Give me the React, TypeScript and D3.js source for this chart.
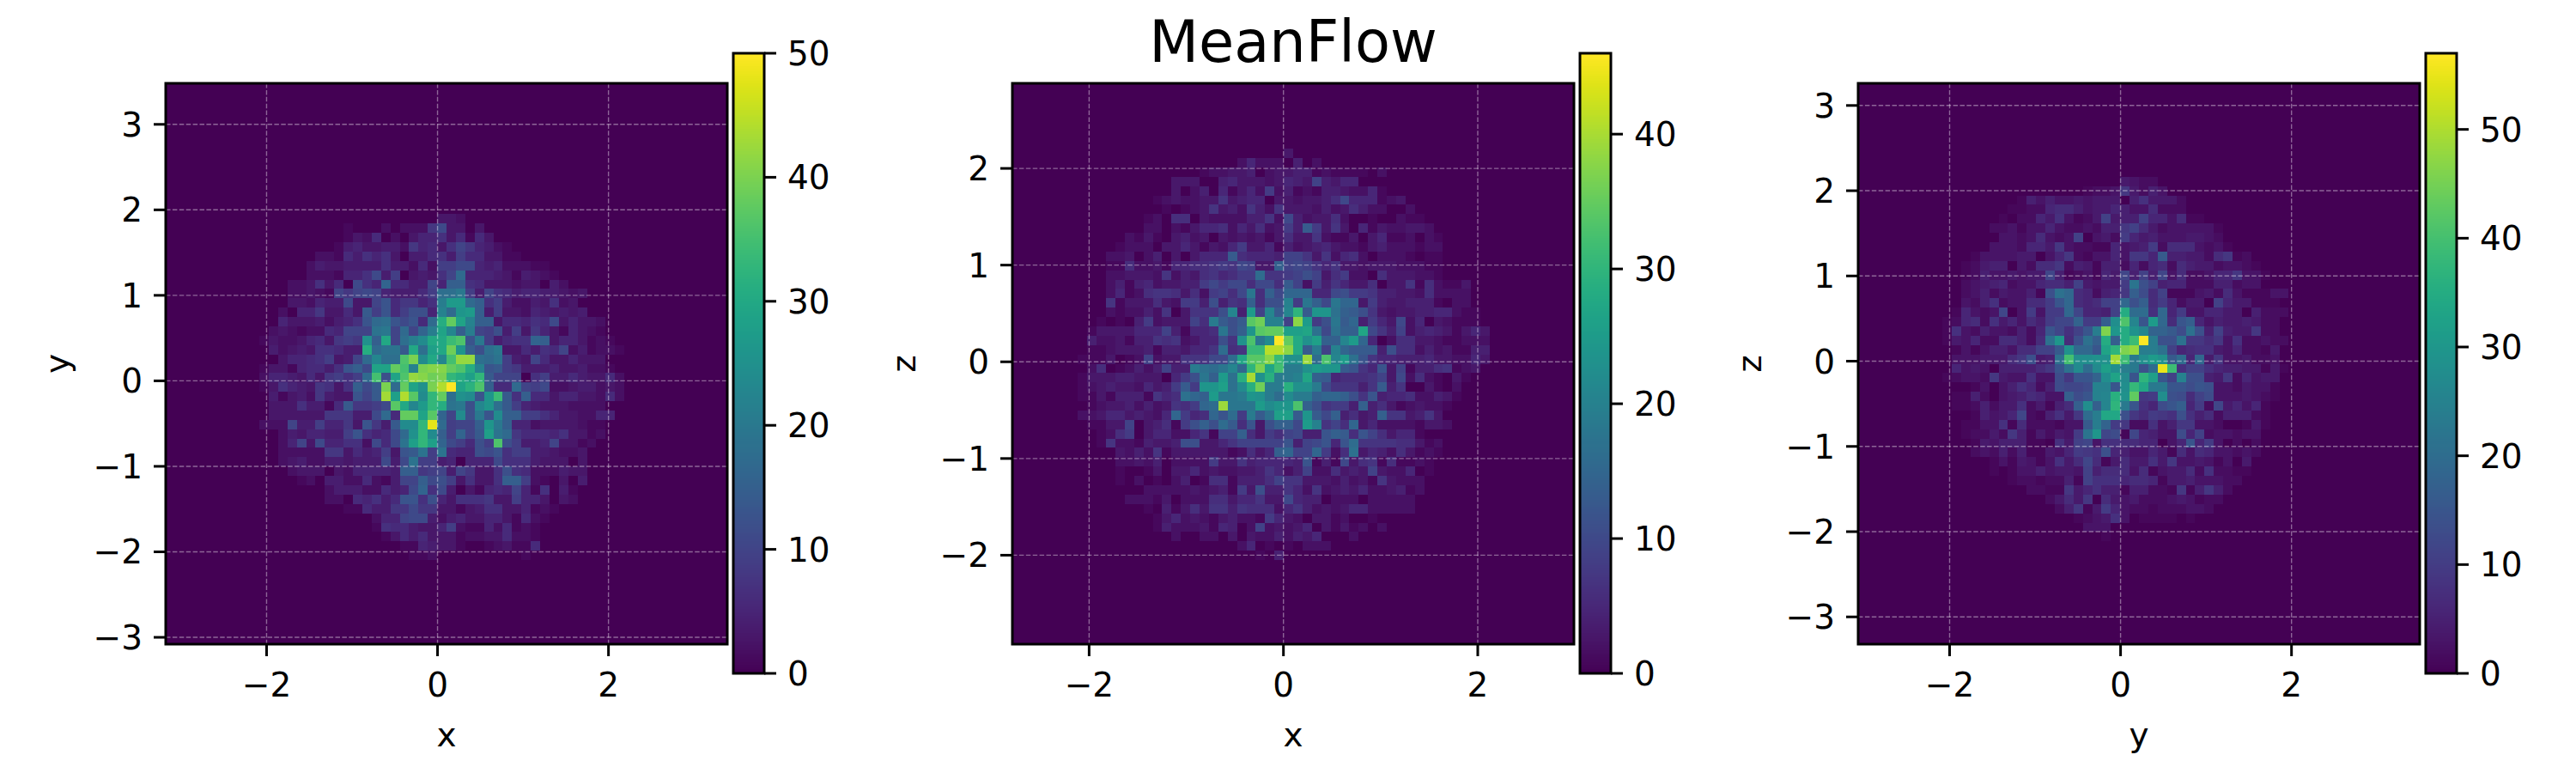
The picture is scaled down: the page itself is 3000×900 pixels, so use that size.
import React from "react";
import * as d3 from "d3";

// Each row: first occupied column bin, then counts. Row index = firstRow + position, counted from the top of 60 bins.
const xyFirstRow = 14;
const xyRows: number[][] = [
[29,3,3,2],
[19,1,0,0,0,2,0,2,2,2,8,11,3,3,0,3],
[19,1,3,2,6,0,2,0,3,5,5,7,3,6,1,6,3],
[18,1,4,5,3,3,4,4,2,8,5,6,3,7,10,8,5,4,2,1],
[16,2,2,1,6,4,7,5,7,3,0,4,4,6,7,4,9,6,6,3,3,1,1],
[15,2,4,3,3,4,4,4,4,7,4,4,2,6,2,9,9,11,11,5,4,5,2,2,2,1,1],
[15,2,2,2,1,5,5,7,11,4,9,0,3,4,3,7,10,17,5,5,5,4,3,1,4,3,2,1],
[13,2,2,3,7,3,6,0,11,7,5,16,6,6,4,4,10,5,15,15,7,6,3,3,3,2,3,3,0,4,2],
[13,2,2,3,2,1,10,8,10,11,10,5,4,4,4,6,9,18,18,20,9,4,10,7,6,4,5,5,4,4,3,2,3],
[13,3,3,2,5,4,4,11,3,3,10,13,6,8,8,5,7,21,27,27,17,15,7,9,4,2,2,4,3,7,2,3],
[12,2,0,5,5,8,3,3,6,3,14,9,13,6,9,12,12,5,22,17,26,27,15,4,9,3,3,2,5,4,3,4,3,4],
[12,5,3,3,3,4,2,4,5,7,13,17,18,13,11,13,6,17,31,38,29,22,15,15,3,6,6,5,7,6,11,3,5,3,3,2],
[11,2,3,2,1,2,2,6,5,10,10,10,19,20,10,17,10,16,21,29,23,15,21,10,9,12,4,9,3,8,5,3,1,5,3,2,1],
[10,1,3,2,2,3,5,6,3,8,9,8,25,15,30,10,18,21,24,30,30,34,36,13,20,9,4,6,7,7,16,15,3,5,5,3,1,2,1],
[11,4,2,3,4,3,7,7,6,4,4,31,17,19,19,14,30,18,28,30,39,26,15,12,18,20,3,3,6,4,7,6,10,2,4,1,2,2,1],
[12,3,5,5,6,7,9,3,4,10,17,23,18,18,36,40,24,30,23,35,42,42,18,17,19,9,4,3,10,6,3,3,5,3,3,3],
[10,1,3,3,1,5,6,6,4,7,13,15,11,29,29,38,35,22,40,41,41,38,36,31,22,13,14,9,8,4,4,4,5,3,3,4,2,2,1],
[10,2,5,5,4,3,6,3,8,9,7,9,17,35,12,29,36,42,41,39,40,33,31,28,33,14,10,10,10,0,7,9,4,4,6,4,3,3,6,2],
[10,1,3,7,5,4,3,8,7,3,7,15,11,14,40,17,38,29,25,40,44,50,29,32,36,15,6,6,17,10,9,11,2,2,3,4,4,2,3,2],
[11,4,1,3,4,2,8,4,3,3,13,10,14,43,28,44,37,24,33,38,18,25,24,13,26,34,14,7,15,6,6,3,5,5,3,3,2,6,2],
[11,3,3,3,7,4,4,1,6,14,8,8,9,11,37,30,23,27,33,31,19,20,12,23,26,18,14,9,5,4,3,3,3,2,2,2,2],
[11,3,3,3,3,3,3,8,8,8,4,4,11,17,6,38,38,29,37,16,10,24,12,20,13,24,15,15,9,9,7,5,3,3,2,2,5,5],
[10,2,2,2,10,4,4,9,5,5,8,3,13,8,4,14,24,24,33,48,17,9,10,10,15,26,20,15,5,5,2,3,3,3,3,2,1,1],
[12,2,4,3,5,5,4,4,9,13,7,5,6,11,17,25,33,24,15,9,16,10,14,28,19,17,8,6,6,6,5,7,3,3,1,2],
[12,2,5,10,3,11,5,5,7,7,2,11,6,11,19,28,33,28,16,11,9,6,12,9,36,12,9,4,4,5,10,3,3,1,2],
[12,2,2,2,2,2,8,8,3,6,4,5,9,3,13,14,19,9,19,6,5,5,12,11,13,7,9,9,4,4,3,2,2,3],
[12,2,3,4,2,2,4,4,3,4,4,4,11,4,11,19,9,9,4,5,0,5,5,5,11,7,7,7,4,3,3,3,0,3],
[13,2,3,3,3,0,3,2,5,5,5,5,4,15,15,8,9,10,4,10,8,3,3,7,12,7,6,2,2,2,4,3,3],
[14,1,2,0,4,4,2,2,6,2,1,4,10,10,15,11,12,9,3,7,3,3,7,15,15,9,2,1,0,3,0,4],
[17,2,4,4,4,2,2,6,4,5,11,16,7,11,4,0,3,1,5,6,5,10,5,1,7,0,4,1],
[17,2,2,0,6,5,7,4,6,13,13,7,12,5,3,7,7,7,8,3,3,9,5,5,3,0,3,2],
[19,1,1,6,4,4,8,8,11,8,8,3,3,1,3,4,7,7,3,3,5,1,2,1],
[22,2,5,5,10,11,11,4,2,4,5,3,3,5,5,3,1,6,2,1],
[22,1,7,6,6,4,3,3,5,9,2,1,1,5,2,6,1,2,1],
[23,1,3,6,4,6,3,3,3,1,2,2,3,3,6,2,2,1],
[25,1,1,5,4,3,3,1,0,0,1,2,3,1,1,6],
[26,1,1,2,0,0,0,0,0,0,0,0,0,1],
];

const xzFirstRow = 7;
const xzRows: number[][] = [
[29,3],
[24,2,5,2,2,2,0,4,0,2],
[20,1,2,2,3,3,4,0,2,3,3,4,4,1,2,1,1,1,1,0,2],
[17,3,3,3,0,0,4,5,3,3,3,2,3,5,4,3,9,4,3,5,5],
[17,3,0,2,4,0,5,1,3,5,2,8,2,4,1,2,1,4,4,3,2,2,5,1],
[15,1,2,3,2,2,3,3,7,3,4,5,5,0,3,3,2,3,3,4,6,10,5,5,5,1,2,3],
[15,0,1,0,1,2,3,7,3,4,2,7,4,2,7,3,3,3,2,4,2,3,6,4,2,2,0,0,2],
[14,1,2,0,6,6,0,3,2,2,2,2,4,4,7,2,10,4,2,3,3,6,2,0,0,1,0,0,2,1,1],
[14,2,2,0,2,1,3,5,5,6,2,5,3,6,2,3,8,4,13,8,3,7,3,0,5,1,3,2,2,3,3,2],
[12,2,1,3,1,0,3,4,2,3,0,3,2,3,2,3,1,3,6,3,3,7,2,1,1,3,0,3,5,1,1,2,0,2,1],
[11,1,2,2,2,0,3,3,5,3,1,3,2,5,8,3,3,5,1,4,2,3,4,5,3,2,2,1,3,4,2,2,2,1,2,2],
[10,2,2,3,0,2,4,0,3,0,3,5,5,5,13,6,5,5,5,4,9,9,7,3,7,2,5,6,2,0,2,2,2,1,0,1,1],
[10,1,1,6,2,2,3,1,5,5,6,6,7,8,7,10,9,3,3,14,9,10,9,7,5,7,3,3,2,3,3,3,2,2,2,1,1],
[10,2,2,3,3,3,2,7,2,4,3,6,7,5,6,8,8,16,7,7,8,9,11,9,3,6,8,2,2,0,6,3,3,3,2,2,1],
[10,2,4,1,4,5,2,3,3,4,4,8,10,8,10,10,6,10,10,6,13,9,2,8,4,7,5,3,3,6,0,3,3,7,1,6,2,1,1,3],
[10,2,5,1,2,6,7,7,6,3,6,2,8,9,6,10,18,6,14,10,15,15,15,5,5,10,11,8,8,7,4,4,3,3,2,6,2,2,2,2],
[10,7,1,3,3,3,6,3,2,8,8,4,11,4,7,6,14,6,11,11,20,8,18,14,10,18,15,15,3,8,4,3,3,4,4,4,1,0,2,2],
[10,2,1,2,2,4,2,7,0,3,7,7,7,11,21,4,25,9,21,13,21,30,13,24,24,17,14,13,11,7,3,2,3,3,4,4,5,5,2,1,1],
[9,1,0,1,0,4,8,2,3,3,3,9,6,19,13,11,13,34,36,20,20,9,38,25,8,11,18,13,15,4,8,5,3,10,2,5,0,3,2,1,1,1],
[8,1,3,3,3,3,5,5,5,9,4,1,5,5,6,18,11,14,24,34,35,35,26,26,27,17,10,17,14,14,27,10,7,4,9,2,4,5,4,3,1,3,5,3],
[8,4,2,2,3,1,4,4,7,6,7,2,3,5,5,11,7,23,33,18,22,46,35,28,23,26,14,14,21,25,15,5,0,2,6,6,3,3,2,1,1,2,2,2],
[8,1,1,2,3,3,3,4,1,4,4,3,5,5,7,16,6,7,31,31,41,41,38,28,13,19,9,20,15,13,13,13,4,11,6,6,2,4,2,3,1,1,4,4],
[7,1,1,1,3,0,1,2,9,2,3,3,7,7,7,10,10,16,27,34,34,38,31,23,23,39,16,33,21,25,17,12,7,5,5,4,4,4,5,3,3,2,2,5,3],
[8,2,6,0,1,2,4,2,4,9,4,4,19,17,16,18,21,15,30,37,27,32,19,19,23,25,24,24,13,12,7,5,12,3,9,1,4,4,6,7,1,2,3],
[7,1,3,3,3,4,4,3,3,3,0,5,8,11,18,14,25,17,29,40,23,29,19,19,20,27,14,13,5,6,6,6,7,9,3,10,2,6,2,1,0,3,1],
[7,1,2,3,4,3,3,2,5,3,4,8,13,8,24,24,26,17,22,29,36,19,19,29,23,23,19,10,7,7,7,4,7,13,4,7,0,0,3,1,0,2],
[7,1,1,3,1,4,4,4,1,7,5,6,17,15,14,25,18,18,19,24,23,19,16,22,19,19,14,15,15,14,11,7,12,4,5,5,6,2,2,4,3,1],
[8,1,2,3,3,4,2,4,2,3,7,6,8,15,16,39,18,18,18,25,22,24,24,33,14,11,7,8,8,4,14,4,6,3,1,2,3,2,2,1],
[7,2,2,3,5,5,3,4,3,2,5,15,8,5,6,15,12,16,8,19,13,17,26,26,13,24,13,10,14,4,6,3,4,14,7,7,3,4,7,3],
[8,1,1,3,3,9,0,3,4,6,1,8,11,14,11,16,13,6,12,3,11,14,14,10,25,20,7,9,6,15,3,5,2,2,2,2,1,3,3,2],
[9,1,2,6,8,0,3,5,5,2,2,5,7,1,9,9,14,6,3,8,6,9,10,4,4,12,14,13,6,12,9,6,3,5,5,1],
[9,1,7,2,2,1,4,3,3,4,11,11,3,3,5,7,9,9,9,9,9,12,4,9,10,12,5,12,16,7,7,7,7,6,6,3,1,2],
[11,3,2,4,2,7,1,3,3,3,3,3,3,1,2,6,3,5,14,15,9,9,15,8,2,6,17,3,5,4,2,6,3,1,2,1],
[11,2,2,3,2,4,0,2,2,2,2,8,3,3,7,4,5,5,5,5,4,12,1,4,1,10,3,6,7,1,6,1,1,2,1],
[11,1,0,0,1,3,0,3,3,5,2,3,2,2,3,3,4,7,5,2,4,9,2,2,6,3,4,3,9,3,2,2,5,0,1],
[11,1,0,2,0,1,0,2,4,0,1,6,6,1,4,4,4,6,9,7,7,3,3,3,2,4,2,3,1,7,3,2,2,2],
[14,2,2,2,2,2,3,2,3,4,1,8,3,11,4,4,7,5,2,7,2,3,4,3,5,2,2,3,4,1,2],
[12,2,2,2,1,3,0,2,2,2,6,6,3,5,5,7,3,3,10,5,4,4,0,2,2,2,0,2,2,2,2,2],
[14,1,0,4,1,3,6,3,7,7,4,7,6,6,6,2,5,7,4,2,3,2,3,5,5,2,2,2,2,2],
[15,1,3,5,2,3,2,1,3,4,2,2,1,8,5,3,2,0,3,3,1,2,0,0,1],
[15,1,4,2,2,2,3,1,5,4,0,2,9,2,3,2,3,5,0,3,1,3,1,2,0,2],
[17,2,0,0,2,2,0,3,0,3,2,2,4,2,4,3,5,0,0,0,2],
[24,2,5,0,1,0,1,0,2,2,2],
[26,1,0,4],
];

const yzFirstRow = 10;
const yzRows: number[][] = [
[28,4,3,2,2],
[24,1,2,2,3,9,4,2,5,3],
[17,1,5,3,5,3,3,4,3,4,4,4,0,5,8,4,4,4,2],
[16,1,1,2,2,6,7,7,5,3,4,4,6,5,3,3,7,2,2,2],
[15,1,0,2,2,6,4,8,3,1,2,4,11,4,5,5,11,6,6,3,7,1,1],
[14,2,2,3,1,3,3,6,3,2,2,3,2,5,5,9,11,7,4,2,3,3,3,3,3,1],
[15,3,3,2,3,7,3,2,3,11,0,3,4,2,10,6,4,5,3,3,3,4,4,3,2],
[14,3,3,3,2,6,6,4,9,3,2,2,1,1,6,3,4,5,10,2,7,7,7,3,2,3,1],
[12,1,3,3,3,3,4,4,0,3,6,9,2,1,3,3,6,3,9,9,6,16,5,5,4,4,2,7,9,1,2],
[11,1,2,4,5,5,0,4,2,7,7,9,2,5,4,1,5,5,2,6,2,6,7,2,7,5,4,4,2,3,3,2,1],
[11,1,2,5,3,3,4,3,4,4,12,5,1,2,3,1,6,4,12,5,11,5,12,3,7,2,2,3,6,6,9,3,3,1],
[11,2,3,4,5,6,2,3,3,6,7,7,5,11,4,3,4,4,10,22,14,11,5,6,6,2,2,2,5,5,2,3,3],
[11,2,3,5,2,4,3,3,5,1,14,21,19,7,6,2,5,6,9,17,13,7,11,1,1,1,3,4,2,7,3,1,1,1,3,3],
[11,3,2,5,8,2,3,3,7,7,10,15,19,7,6,7,11,11,19,14,17,7,10,6,2,4,4,0,11,6,4,4,1,1,1],
[10,1,6,3,2,3,12,0,3,10,3,10,10,19,12,6,6,5,11,35,20,20,8,19,6,10,3,3,6,6,4,4,0,5,2,2,2],
[9,1,2,6,7,2,8,4,6,3,7,5,10,12,12,18,10,10,17,28,41,26,15,31,19,7,15,17,6,3,5,4,4,5,4,2,2],
[9,1,8,3,2,5,3,3,2,5,2,6,15,12,8,11,15,24,46,30,35,29,26,18,18,16,13,21,14,5,11,5,4,4,9,2,2],
[9,1,4,3,6,2,2,7,7,5,2,7,21,30,7,14,21,17,35,17,35,39,57,24,14,14,21,9,9,7,9,3,8,2,2,3,2,2],
[10,1,3,1,3,5,5,3,7,7,11,11,16,29,19,19,15,33,37,46,48,24,24,21,11,6,7,8,8,4,3,6,2,2,1,4],
[10,3,3,3,4,4,4,7,9,14,4,5,21,40,28,28,29,29,49,39,23,28,31,29,16,20,6,19,4,9,3,3,4,2,2,3],
[10,6,3,4,3,0,5,5,5,5,7,9,15,21,27,20,27,32,28,24,23,14,20,55,39,8,11,11,8,6,5,5,4,4,1,4,1],
[9,1,2,3,3,2,9,4,3,3,8,3,3,13,9,15,15,18,28,33,27,15,37,32,15,11,25,14,14,5,4,9,2,6,3,4,4],
[12,1,3,0,3,5,8,6,2,5,13,12,12,13,25,25,15,28,38,34,23,23,15,15,13,15,14,3,3,2,4,3,3,1],
[10,1,1,5,2,0,3,4,5,7,6,3,3,17,13,15,25,26,36,29,43,9,10,28,14,13,7,11,13,3,3,3,4,3,2,1],
[10,1,1,2,5,2,4,4,8,2,4,1,5,7,17,28,17,26,37,23,15,8,6,13,15,17,6,10,2,12,4,6,3,6,1],
[12,1,5,3,4,6,12,2,1,5,8,4,9,20,24,34,34,14,9,7,10,9,8,14,8,5,7,2,5,5,5,2,1],
[11,1,1,3,3,8,1,7,2,2,2,1,3,3,16,24,18,10,9,2,2,8,3,5,9,9,3,3,2,0,0,1,4,1],
[11,1,2,2,4,2,9,5,1,4,2,4,3,10,22,30,12,13,1,12,6,5,3,3,13,6,11,2,3,3,2,3,3],
[12,1,4,3,5,5,5,1,1,0,8,4,11,12,3,8,8,7,7,6,6,0,3,6,15,6,10,3,0,2,0,2],
[12,2,3,2,5,2,5,1,1,4,3,6,10,9,8,14,6,5,3,3,6,4,1,7,3,7,6,3,3,2,3,2],
[14,1,3,1,4,3,1,3,8,4,7,12,7,1,4,7,4,4,8,4,9,3,3,4,3,1,3,0,4],
[14,1,0,1,3,3,5,3,4,4,3,11,5,7,7,7,3,7,1,3,4,4,7,2,8,2,2,1,1],
[16,1,2,2,1,2,2,5,1,11,8,8,8,6,7,7,6,1,4,4,5,3,3,3,2,2],
[18,2,2,1,1,9,4,6,8,5,5,1,5,5,2,2,1,9,1,5,9,5,2],
[20,2,4,7,4,9,0,7,4,3,4,2,2,2,3,4,3,1,2,2],
[21,2,5,9,1,4,10,6,3,2,2,1,2,2,2,3,3,2],
[23,1,2,3,4,8,3,0,1,1,1,1,0,1],
[24,3,3,3],
[26,1],
];

const rowSets = [xyRows, xzRows, yzRows];
const firstRows = [xyFirstRow, xzFirstRow, yzFirstRow];
const xLabels = ["x", "x", "y"];
const yLabels = ["y", "z", "z"];
const xDomains = [[-3.18, 3.39], [-2.79, 2.99], [-3.07, 3.5]];
const yDomains = [[-3.08, 3.48], [-2.92, 2.88], [-3.32, 3.26]];
const xTicks = [[-2, 0, 2], [-2, 0, 2], [-2, 0, 2]];
const yTicks = [[-3, -2, -1, 0, 1, 2, 3], [-2, -1, 0, 1, 2], [-3, -2, -1, 0, 1, 2, 3]];
const vMaxes = [50, 46, 57];
const cbTicks = [[0, 10, 20, 30, 40, 50], [0, 10, 20, 30, 40], [0, 10, 20, 30, 40, 50]];
const title = "MeanFlow";

const BINS = 60;
const LEFTS = [193, 1179, 2164];
const AX_W = 654;
const TOP = 97;
const BOTTOM = 750;
const CB_GAP = 7;
const CB_W = 36;
const CB_TOP = 62;
const CB_BOTTOM = 784;
const LW = 3;
const TICK = 14;
const FS = 39;
const FONT = "'DejaVu Sans', sans-serif";
const fmt = (v: number) => String(v).replace("-", "\u2212");

function Panel({ idx }: { idx: number }) {
  const left = LEFTS[idx];
  const right = left + AX_W;
  const x = d3.scaleLinear().domain(xDomains[idx]).range([left, right]);
  const y = d3.scaleLinear().domain(yDomains[idx]).range([BOTTOM, TOP]);
  const bx = d3.scaleLinear().domain([0, BINS]).range([left, right]);
  const by = d3.scaleLinear().domain([0, BINS]).range([TOP, BOTTOM]);
  const color = d3.scaleSequential(d3.interpolateViridis).domain([0, vMaxes[idx]]);
  const cbY = d3.scaleLinear().domain([0, vMaxes[idx]]).range([CB_BOTTOM, CB_TOP]);
  const cbL = right + CB_GAP;
  const cbR = cbL + CB_W;
  const ramp = d3.range(256).map((k) => (k / 256) * vMaxes[idx]);
  const cells: React.ReactNode[] = [];
  rowSets[idx].forEach((row, r) => {
    const j = firstRows[idx] + r;
    row.slice(1).forEach((v, c) => {
      if (v <= 0) return;
      const i = row[0] + c;
      cells.push(
        <rect
          key={`${i}-${j}`}
          x={Math.round(bx(i))}
          y={Math.round(by(j))}
          width={Math.round(bx(i + 1)) - Math.round(bx(i))}
          height={Math.round(by(j + 1)) - Math.round(by(j))}
          fill={color(v)}
        />
      );
    });
  });
  const gridStyle = { stroke: "rgba(255,255,255,0.4)", strokeWidth: 1.4, strokeDasharray: "5.5,2.4" };
  return (
    <g fontFamily={FONT} fontSize={FS} fill="#000">
      <rect x={left} y={TOP} width={AX_W} height={BOTTOM - TOP} fill={color(0)} />
      <g shapeRendering="crispEdges">{cells}</g>
      {xTicks[idx].map((t) => (
        <line key={t} x1={x(t)} x2={x(t)} y1={TOP} y2={BOTTOM} {...gridStyle} />
      ))}
      {yTicks[idx].map((t) => (
        <line key={t} x1={left} x2={right} y1={y(t)} y2={y(t)} {...gridStyle} />
      ))}
      <rect x={left} y={TOP} width={AX_W} height={BOTTOM - TOP} fill="none" stroke="#000" strokeWidth={LW} />
      {xTicks[idx].map((t) => (
        <g key={t}>
          <line x1={x(t)} x2={x(t)} y1={BOTTOM} y2={BOTTOM + TICK} stroke="#000" strokeWidth={LW} />
          <text x={x(t)} y={811} textAnchor="middle">{fmt(t)}</text>
        </g>
      ))}
      {yTicks[idx].map((t) => (
        <g key={t}>
          <line x1={left - TICK} x2={left} y1={y(t)} y2={y(t)} stroke="#000" strokeWidth={LW} />
          <text x={left - TICK - 13} y={y(t) + 14} textAnchor="end">{fmt(t)}</text>
        </g>
      ))}
      <text x={(left + right) / 2} y={869} textAnchor="middle">{xLabels[idx]}</text>
      <text
        transform={`translate(${left - 113},${(TOP + BOTTOM) / 2}) rotate(-90)`}
        textAnchor="middle"
      >
        {yLabels[idx]}
      </text>
      <g shapeRendering="crispEdges">
        {ramp.map((v, k) => (
          <rect
            key={k}
            x={cbL}
            width={CB_W}
            y={cbY(v + vMaxes[idx] / 256)}
            height={cbY(v) - cbY(v + vMaxes[idx] / 256) + 1}
            fill={color(v + vMaxes[idx] / 512)}
          />
        ))}
      </g>
      <rect x={cbL} y={CB_TOP} width={CB_W} height={CB_BOTTOM - CB_TOP} fill="none" stroke="#000" strokeWidth={LW} />
      {cbTicks[idx].map((t) => (
        <g key={t}>
          <line x1={cbR} x2={cbR + TICK} y1={cbY(t)} y2={cbY(t)} stroke="#000" strokeWidth={LW} />
          <text x={cbR + TICK + 13} y={cbY(t) + 14}>{t}</text>
        </g>
      ))}
    </g>
  );
}

export default function App() {
  return (
    <svg
      width={3000}
      height={900}
      viewBox="0 0 3000 900"
      style={{ position: "absolute", left: 0, top: 0, background: "#fff" }}
    >
      <text x={1506} y={72} textAnchor="middle" fontFamily={FONT} fontSize={67}>{title}</text>
      {LEFTS.map((_, i) => (
        <Panel key={i} idx={i} />
      ))}
    </svg>
  );
}
